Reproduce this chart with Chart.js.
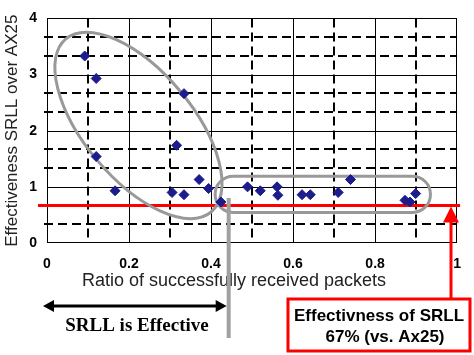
<!DOCTYPE html>
<html><head><meta charset="utf-8">
<script src="https://cdn.jsdelivr.net/npm/chart.js@4/dist/chart.umd.min.js"></script>
<style>html,body{margin:0;padding:0;background:#fff}canvas{display:block}</style>
</head><body>
<canvas id="c" width="474" height="355"></canvas>
<script>
// ---- data ----
const ratioReceived = [0.092, 0.120, 0.334, 0.120, 0.316, 0.371, 0.166, 0.305, 0.334, 0.394, 0.424,
                       0.489, 0.520, 0.561, 0.563, 0.622, 0.642, 0.710, 0.740, 0.873, 0.885, 0.899];
const effectiveness = [3.33, 2.93, 2.66, 1.54, 1.74, 1.13, 0.93, 0.90, 0.86, 0.97, 0.73,
                       1.00, 0.93, 1.00, 0.85, 0.86, 0.86, 0.90, 1.13, 0.76, 0.73, 0.88];
const xTickValues = [0, 0.2, 0.4, 0.6, 0.8, 1];
const yTickValues = [0, 1, 2, 3, 4];
const xSolidGrid = [0.2, 0.4, 0.6, 0.8];
const xDashedGrid = [0.1, 0.3, 0.5, 0.7, 0.9];
const ySolidGrid = [1, 2, 3];
const yDashedGrid = [1/3, 2/3, 4/3, 5/3, 7/3, 8/3, 10/3, 11/3];
const thresholdValue = 0.67;
const xTitle = 'Ratio of successfully received packets';
const yTitle = 'Effectiveness SRLL over AX25';
const effectiveLabel = 'SRLL is Effective';
const boxLines = ['Effectivness of SRLL', '67% (vs. Ax25)'];

const pts = ratioReceived.map((v, i) => ({x: v, y: effectiveness[i]}));

function seg(ctx, x1, y1, x2, y2) { ctx.beginPath(); ctx.moveTo(x1, y1); ctx.lineTo(x2, y2); ctx.stroke(); }

const overlay = {
  id: 'overlay',
  beforeDatasetsDraw(chart) {
    const {ctx, chartArea: a, scales: {x, y}} = chart;
    ctx.save();
    // solid grid
    ctx.strokeStyle = '#000'; ctx.lineWidth = 1;
    ySolidGrid.forEach(v => { const p = Math.round(y.getPixelForValue(v)) + 0.5; seg(ctx, a.left, p, a.right, p); });
    xSolidGrid.forEach(v => { const p = Math.round(x.getPixelForValue(v)) + 0.5; seg(ctx, p, a.top, p, a.bottom); });
    // dashed grid
    ctx.lineWidth = 2; ctx.setLineDash([9, 5]);
    yDashedGrid.forEach(v => { const p = Math.round(y.getPixelForValue(v)); seg(ctx, a.left - 3, p, a.right, p); });
    xDashedGrid.forEach(v => { const p = Math.round(x.getPixelForValue(v)); seg(ctx, p, a.top, p, a.bottom); });
    ctx.setLineDash([]);
    // frame
    ctx.lineWidth = 1;
    ctx.strokeRect(Math.round(a.left) + 0.5, Math.round(a.top) + 0.5, Math.round(a.width) - 1, Math.round(a.height) - 1);
    // red threshold line
    ctx.strokeStyle = '#ff0000'; ctx.lineWidth = 3;
    const ry = y.getPixelForValue(thresholdValue);
    seg(ctx, a.left - 9, ry, a.right + 3, ry);
    // grey ellipse
    ctx.strokeStyle = '#999999'; ctx.lineWidth = 3;
    ctx.beginPath();
    ctx.ellipse(x.getPixelForValue(0.223), y.getPixelForValue(2.094), 113, 54, 50 * Math.PI / 180, 0, Math.PI * 2);
    ctx.stroke();
    // grey rounded rect
    const rx1 = x.getPixelForValue(0.41), rx2 = x.getPixelForValue(0.935);
    const ry1 = y.getPixelForValue(1.19), ry2 = y.getPixelForValue(0.545);
    ctx.beginPath();
    ctx.roundRect(rx1, ry1, rx2 - rx1, ry2 - ry1, 18);
    ctx.stroke();
    ctx.restore();
  },
  afterDatasetsDraw(chart) {
    const {ctx, chartArea: a, scales: {x, y}} = chart;
    ctx.save();
    // x axis title
    ctx.fillStyle = '#222';
    ctx.font = '18px "Liberation Sans", Arial, sans-serif';
    ctx.textAlign = 'center'; ctx.textBaseline = 'middle';
    ctx.fillText(xTitle, 234, 281);
    // grey vertical divider
    const gx = x.getPixelForValue(0.443);
    ctx.strokeStyle = '#a0a0a0'; ctx.lineWidth = 4;
    seg(ctx, gx, y.getPixelForValue(0.8), gx, 338);
    // black double arrow
    const ay = 306, ax1 = 43, ax2 = gx - 2;
    ctx.strokeStyle = '#000'; ctx.fillStyle = '#000'; ctx.lineWidth = 3;
    seg(ctx, ax1 + 6, ay, ax2 - 6, ay);
    ctx.beginPath(); ctx.moveTo(ax1, ay); ctx.lineTo(ax1 + 11, ay - 6); ctx.lineTo(ax1 + 11, ay + 6); ctx.closePath(); ctx.fill();
    ctx.beginPath(); ctx.moveTo(ax2, ay); ctx.lineTo(ax2 - 11, ay - 6); ctx.lineTo(ax2 - 11, ay + 6); ctx.closePath(); ctx.fill();
    ctx.font = 'bold 19px "Liberation Serif", "Times New Roman", serif';
    ctx.fillText(effectiveLabel, 137, 326);
    // red box
    ctx.strokeStyle = '#ff0000'; ctx.lineWidth = 3;
    ctx.strokeRect(288, 299, 182, 52);
    ctx.fillStyle = '#000';
    ctx.font = 'bold 17px "Liberation Sans", Arial, sans-serif';
    ctx.fillText(boxLines[0], 379, 316);
    ctx.fillText(boxLines[1], 385, 337);
    // red arrow
    const rx = 451, ry = y.getPixelForValue(thresholdValue) + 1;
    ctx.lineWidth = 3;
    seg(ctx, rx, 298, rx, ry + 14);
    ctx.fillStyle = '#ff0000';
    ctx.beginPath(); ctx.moveTo(rx, ry); ctx.lineTo(rx - 8, ry + 16); ctx.lineTo(rx + 8, ry + 16); ctx.closePath(); ctx.fill();
    ctx.restore();
  }
};

new Chart(document.getElementById('c'), {
  type: 'scatter',
  data: {
    datasets: [{
      data: pts,
      pointStyle: 'rectRot',
      pointRadius: 5,
      pointBackgroundColor: '#1c1c8c',
      pointBorderColor: '#1c1c8c',
      pointBorderWidth: 1
    }]
  },
  options: {
    responsive: false,
    animation: false,
    layout: {padding: {top: 8, right: 12, left: 0, bottom: 0}},
    plugins: {legend: {display: false}, tooltip: {enabled: false}},
    scales: {
      x: {
        type: 'linear', min: 0, max: 1,
        afterBuildTicks: s => { s.ticks = xTickValues.map(v => ({value: v})); },
        afterFit: s => { s.height = 112; },
        grid: {display: false, drawTicks: false},
        border: {display: false},
        ticks: {
          padding: 13, color: '#000', maxRotation: 0,
          font: {family: '"Liberation Sans", Arial, sans-serif', size: 14, weight: 'bold'},
          callback: v => String(v)
        }
      },
      y: {
        type: 'linear', min: 0, max: 4,
        afterBuildTicks: s => { s.ticks = yTickValues.map(v => ({value: v})); },
        afterFit: s => { s.width = 47; },
        grid: {display: false, drawTicks: false},
        border: {display: false},
        ticks: {
          padding: 10, color: '#000',
          font: {family: '"Liberation Sans", Arial, sans-serif', size: 14, weight: 'bold'},
          callback: v => String(v)
        },
        title: {
          display: true, text: yTitle, color: '#222',
          font: {family: '"Liberation Sans", Arial, sans-serif', size: 17},
          padding: {top: 2, bottom: 0}
        }
      }
    }
  },
  plugins: [overlay]
});
</script>
</body></html>
